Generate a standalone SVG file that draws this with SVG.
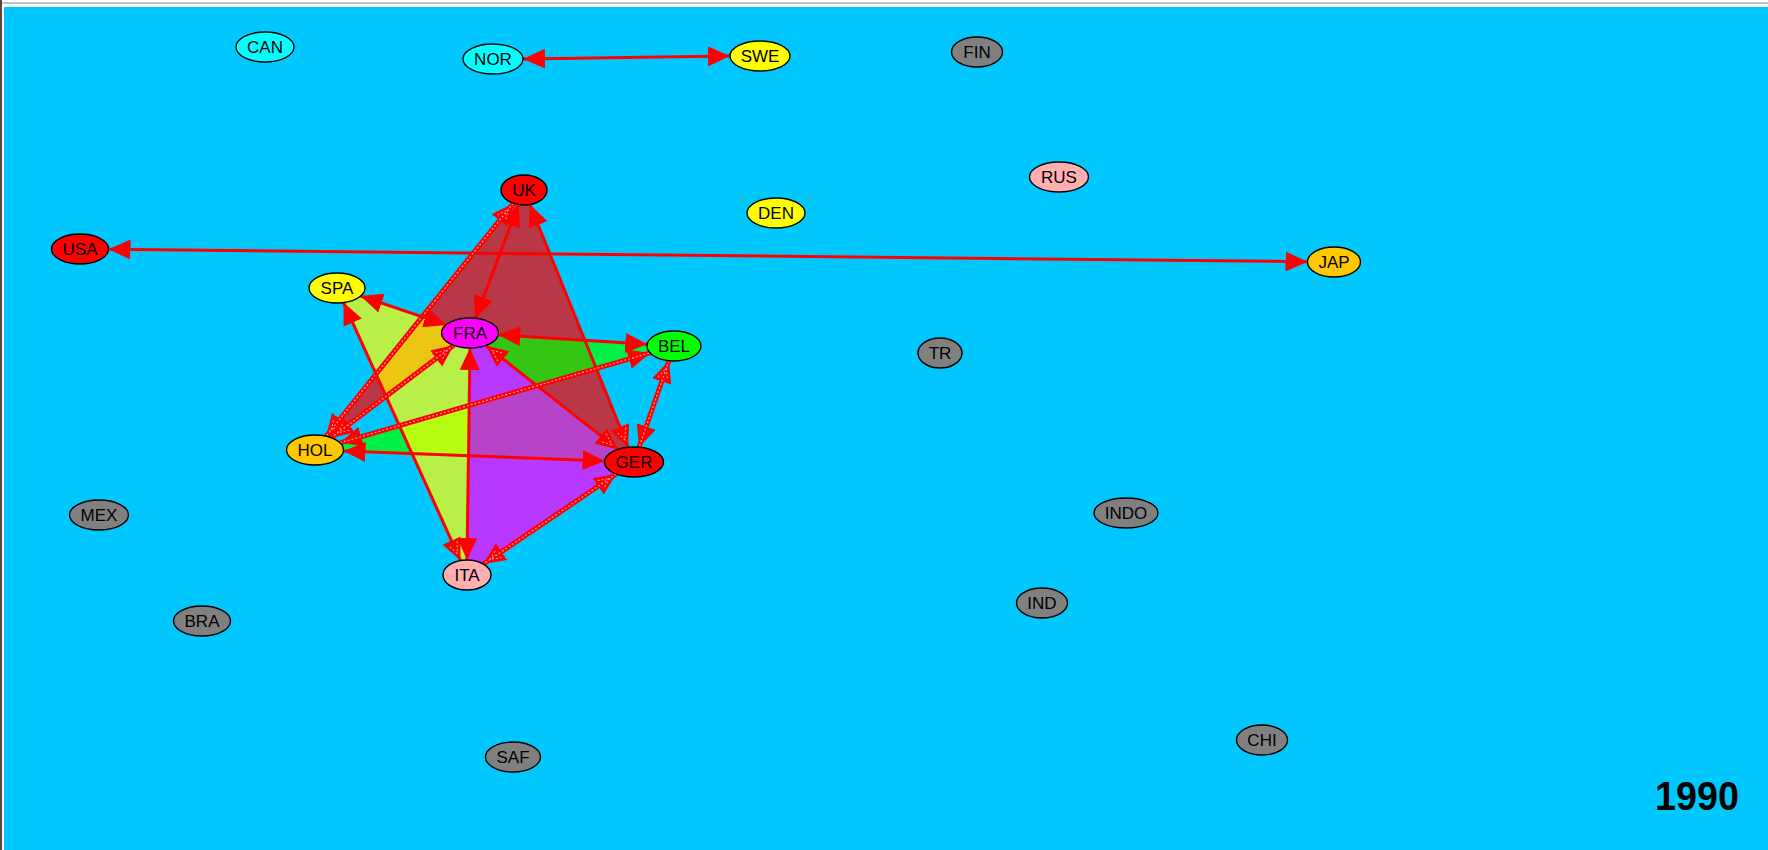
<svg xmlns="http://www.w3.org/2000/svg" width="1768" height="850" viewBox="0 0 1768 850">
<style>
.n ellipse{stroke:#000;stroke-width:1.4}
.n text{font-family:"Liberation Sans",Arial,sans-serif;font-size:17px;fill:#000;text-anchor:middle}
.e{fill:none;stroke:#FF0000;stroke-width:3}
.h{fill:none;stroke:#FF0000;stroke-width:5}
.hd{fill:none;stroke:#FF9C9C;stroke-width:1.2;stroke-dasharray:2 2}
.poly{fill-opacity:0.72;stroke:none}
.gray{fill:#808080}.cyan{fill:#00FFFF}.yel{fill:#FFFF00}.red{fill:#FF0000}.pink{fill:#FFAFAF}.org{fill:#FFC800}.mag{fill:#FF00FF}.grn{fill:#00FF00}
</style>
<defs>
<marker id="as" markerUnits="userSpaceOnUse" viewBox="0 0 22 20" markerWidth="22" markerHeight="20" refX="22" refY="10" orient="auto-start-reverse">
<path d="M0,0 L22,10 L0,20 Z" fill="#FF0000"/>
</marker>
<marker id="ah" markerUnits="userSpaceOnUse" viewBox="0 0 22 20" markerWidth="22" markerHeight="20" refX="22" refY="10" orient="auto-start-reverse">
<path d="M0,0 L22,10 L0,20 Z" fill="#FF0000"/>
<path d="M3,5 L14,10 L3,15" fill="none" stroke="#FF9C9C" stroke-width="1" stroke-dasharray="2 2"/>
</marker>
</defs>
<rect x="0" y="0" width="1768" height="850" fill="#FFFFFF"/>
<rect x="4" y="7" width="1764" height="843" fill="#00C8FF"/>
<rect x="0" y="0" width="2" height="850" fill="#5A4646"/>
<rect x="2" y="2.5" width="1766" height="1" fill="#8A8A8A"/>

<g id="cliques">
<polygon class="poly red" points="524,190 315,450 470,333 634,462"/>
<polygon class="poly grn" points="470,333 674,346 315,450 634,462"/>
<polygon class="poly yel" points="337,288 470,333 467,575"/>
<polygon class="poly mag" points="470,333 634,462 467,575"/>
</g>

<g id="connectors">
<path class="e" d="M523,59 L730,56" marker-start="url(#as)" marker-end="url(#as)"/>
<path class="e" d="M108.5,249.3 L1307.5,261.7" marker-start="url(#as)" marker-end="url(#as)"/>
<path class="e" d="M518.5,204.6 L475.5,318.3" marker-start="url(#as)" marker-end="url(#as)"/>
<path class="h" d="M513.3,203.3 L326.1,436.2" marker-start="url(#ah)" marker-end="url(#ah)"/>
<path class="hd" d="M513.3,203.3 L326.1,436.2"/>
<path class="e" d="M529.9,204.5 L628.1,447.3" marker-start="url(#as)" marker-end="url(#ah)"/>
<path class="e" d="M360.7,296 L446,324.9" marker-start="url(#as)" marker-end="url(#as)"/>
<path class="e" d="M343.6,302.6 L460.5,560.6" marker-start="url(#as)" marker-end="url(#ah)"/>
<path class="e" d="M498.3,334.8 L647.2,344.3" marker-start="url(#as)" marker-end="url(#as)"/>
<path class="h" d="M453.7,345.3 L331.3,437.7" marker-start="url(#ah)" marker-end="url(#ah)"/>
<path class="hd" d="M453.7,345.3 L331.3,437.7"/>
<path class="e" d="M485.9,345.5 L618,449.4" marker-start="url(#ah)" marker-end="url(#ah)"/>
<path class="e" d="M470,348 L467,560" marker-start="url(#as)" marker-end="url(#as)"/>
<path class="h" d="M668.9,360.7 L639.1,447.2" marker-start="url(#ah)" marker-end="url(#as)"/>
<path class="hd" d="M668.9,360.7 L639.1,447.2"/>
<path class="h" d="M340,442.8 L650.1,352.9" marker-start="url(#as)" marker-end="url(#as)"/>
<path class="hd" d="M340,442.8 L650.1,352.9"/>
<path class="e" d="M343.5,451.1 L604.5,460.9" marker-start="url(#as)" marker-end="url(#as)"/>
<path class="h" d="M616.3,474 L483.3,564" marker-start="url(#ah)" marker-end="url(#ah)"/>
<path class="hd" d="M616.3,474 L483.3,564"/>
</g>

<g id="node-CAN" class="n"><ellipse class="cyan" cx="265" cy="47" rx="29" ry="15"/><text x="265" y="53">CAN</text></g>
<g id="node-NOR" class="n"><ellipse class="cyan" cx="493" cy="59" rx="30" ry="15"/><text x="493" y="65">NOR</text></g>
<g id="node-SWE" class="n"><ellipse class="yel" cx="760" cy="56" rx="30" ry="15"/><text x="760" y="62">SWE</text></g>
<g id="node-FIN" class="n"><ellipse class="gray" cx="977" cy="52" rx="25.5" ry="15"/><text x="977" y="58">FIN</text></g>
<g id="node-RUS" class="n"><ellipse class="pink" cx="1059" cy="177" rx="29.5" ry="15"/><text x="1059" y="183">RUS</text></g>
<g id="node-UK" class="n"><ellipse class="red" cx="524" cy="190" rx="23" ry="15"/><text x="524" y="196">UK</text></g>
<g id="node-DEN" class="n"><ellipse class="yel" cx="776" cy="213" rx="29" ry="15"/><text x="776" y="219">DEN</text></g>
<g id="node-USA" class="n"><ellipse class="red" cx="80" cy="249" rx="28.5" ry="15"/><text x="80" y="255">USA</text></g>
<g id="node-JAP" class="n"><ellipse class="org" cx="1334" cy="262" rx="26.5" ry="15"/><text x="1334" y="268">JAP</text></g>
<g id="node-SPA" class="n"><ellipse class="yel" cx="337" cy="288" rx="28" ry="15"/><text x="337" y="294">SPA</text></g>
<g id="node-FRA" class="n"><ellipse class="mag" cx="470" cy="333" rx="28.5" ry="15"/><text x="470" y="339">FRA</text></g>
<g id="node-BEL" class="n"><ellipse class="grn" cx="674" cy="346" rx="27" ry="15"/><text x="674" y="352">BEL</text></g>
<g id="node-TR" class="n"><ellipse class="gray" cx="940" cy="353" rx="22" ry="15"/><text x="940" y="359">TR</text></g>
<g id="node-HOL" class="n"><ellipse class="org" cx="315" cy="450" rx="28.5" ry="15"/><text x="315" y="456">HOL</text></g>
<g id="node-GER" class="n"><ellipse class="red" cx="634" cy="462" rx="29.5" ry="15"/><text x="634" y="468">GER</text></g>
<g id="node-MEX" class="n"><ellipse class="gray" cx="99" cy="515" rx="29.5" ry="15"/><text x="99" y="521">MEX</text></g>
<g id="node-INDO" class="n"><ellipse class="gray" cx="1126" cy="513" rx="32" ry="15"/><text x="1126" y="519">INDO</text></g>
<g id="node-ITA" class="n"><ellipse class="pink" cx="467" cy="575" rx="24" ry="15"/><text x="467" y="581">ITA</text></g>
<g id="node-IND" class="n"><ellipse class="gray" cx="1042" cy="603" rx="25.5" ry="15"/><text x="1042" y="609">IND</text></g>
<g id="node-BRA" class="n"><ellipse class="gray" cx="202" cy="621" rx="28.5" ry="15"/><text x="202" y="627">BRA</text></g>
<g id="node-SAF" class="n"><ellipse class="gray" cx="513" cy="757" rx="27.5" ry="15"/><text x="513" y="763">SAF</text></g>
<g id="node-CHI" class="n"><ellipse class="gray" cx="1262" cy="740" rx="25.5" ry="15"/><text x="1262" y="746">CHI</text></g>

<text x="1655" y="810" font-family="Liberation Sans, Arial, sans-serif" font-size="41" font-weight="bold" fill="#000" textLength="84" lengthAdjust="spacingAndGlyphs">1990</text>
</svg>
